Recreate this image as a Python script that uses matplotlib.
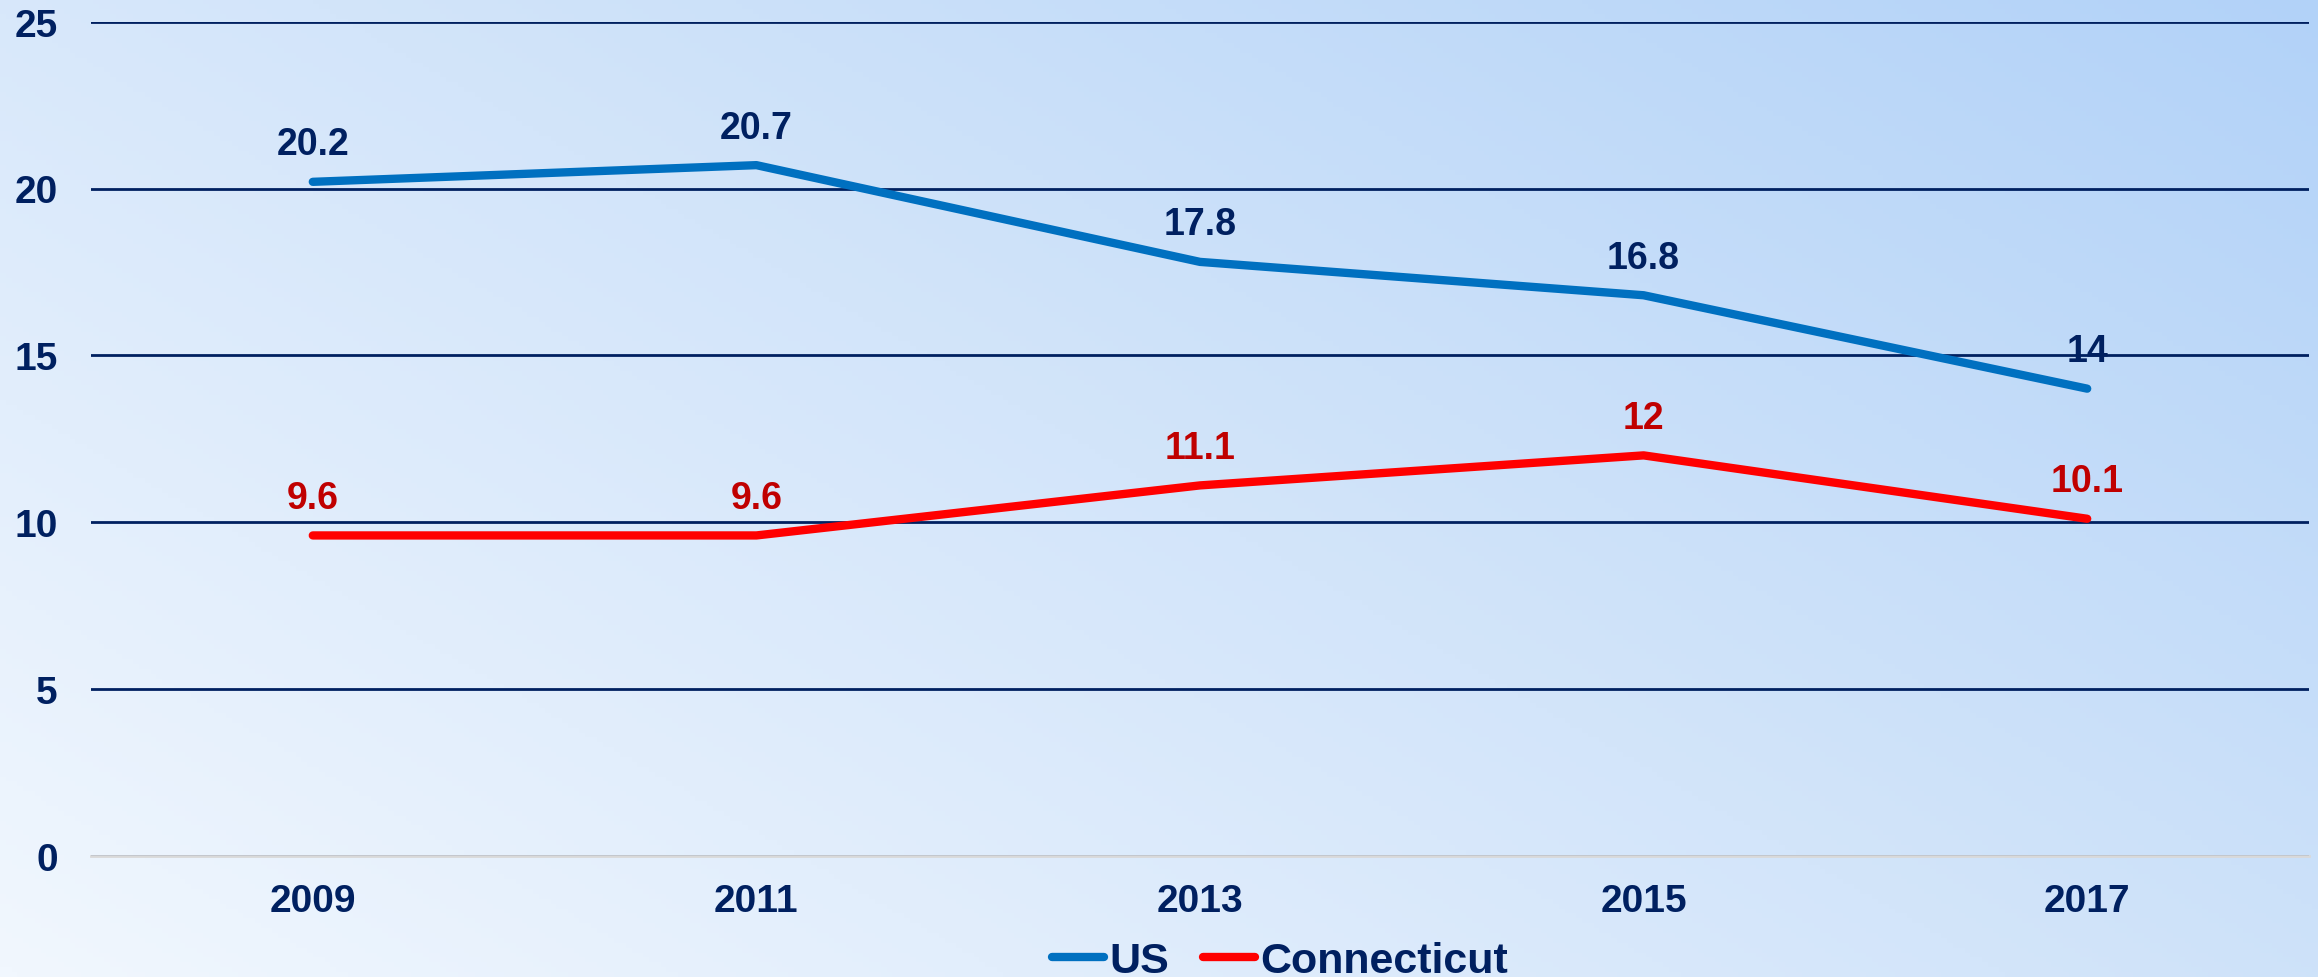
import numpy as np
import matplotlib
matplotlib.use("Agg")
import matplotlib.pyplot as plt
from matplotlib.colors import LinearSegmentedColormap

plt.rcParams['font.family'] = ['Liberation Sans', 'DejaVu Sans']
plt.rcParams['font.weight'] = 'bold'

years = ["2009", "2011", "2013", "2015", "2017"]
us_values = [20.2, 20.7, 17.8, 16.8, 14]
ct_values = [9.6, 9.6, 11.1, 12, 10.1]
us_labels = ["20.2", "20.7", "17.8", "16.8", "14"]
ct_labels = ["9.6", "9.6", "11.1", "12", "10.1"]

NAVY = "#002060"
US_COLOR = "#0070C0"
CT_COLOR = "#FF0000"
CT_LABEL = "#C00000"

fig = plt.figure(figsize=(23.18, 9.78), dpi=100)

# gradient background: light bottom-left -> blue top-right
bg = fig.add_axes([0, 0, 1, 1], zorder=-10)
gx, gy = np.meshgrid(np.linspace(0, 1, 400), np.linspace(0, 1, 200))
grad = (gx * 0.75 + gy * 0.55) / 1.3
cmap = LinearSegmentedColormap.from_list("bg", ["#F1F7FE", "#D3E5FA", "#B2D2F8"])
bg.imshow(grad, cmap=cmap, origin="lower", aspect="auto", extent=[0, 1, 0, 1])
bg.axis("off")

ax = fig.add_axes([91 / 2318, 1 - 856.7 / 978, (2309 - 91) / 2318, (856.7 - 22.7) / 978])
ax.patch.set_alpha(0)

x = np.arange(len(years))
ax.plot(x, us_values, color=US_COLOR, lw=6, solid_capstyle="round", label="US", zorder=3)
ax.plot(x, ct_values, color=CT_COLOR, lw=6, solid_capstyle="round", label="Connecticut", zorder=3)

for xi, v, s in zip(x, us_values, us_labels):
    ax.annotate(s, (xi, v), xytext=(0, 27), textcoords="offset points",
                ha="center", va="center", fontsize=27, fontweight="bold", color=NAVY)
for xi, v, s in zip(x, ct_values, ct_labels):
    ax.annotate(s, (xi, v), xytext=(0, 27), textcoords="offset points",
                ha="center", va="center", fontsize=27, fontweight="bold", color=CT_LABEL)

ax.set_xlim(-0.5, len(years) - 0.5)
ax.set_ylim(0, 25)
ax.set_yticks(range(0, 26, 5))
ax.set_xticks(x)
ax.set_xticklabels(years)
ax.yaxis.grid(True, color=NAVY, lw=2)
ax.set_axisbelow(True)
for sp in ["top", "right", "left"]:
    ax.spines[sp].set_visible(False)
ax.spines["bottom"].set_color("#D9D9D9")
ax.spines["bottom"].set_linewidth(2)
ax.tick_params(length=0, labelsize=28, labelcolor=NAVY, pad=20)
ax.tick_params(axis="y", pad=24)
for lbl in ax.get_xticklabels() + ax.get_yticklabels():
    lbl.set_fontweight("bold")

ax.legend(loc="center", bbox_to_anchor=(1280 / 2318, 1 - 962 / 978), bbox_transform=fig.transFigure,
          ncol=2, frameon=False, handlelength=1.2, handletextpad=0.12,
          columnspacing=0.8, labelcolor=NAVY, prop={"weight": "bold", "size": 31})

fig.savefig("out.png", dpi=100)
